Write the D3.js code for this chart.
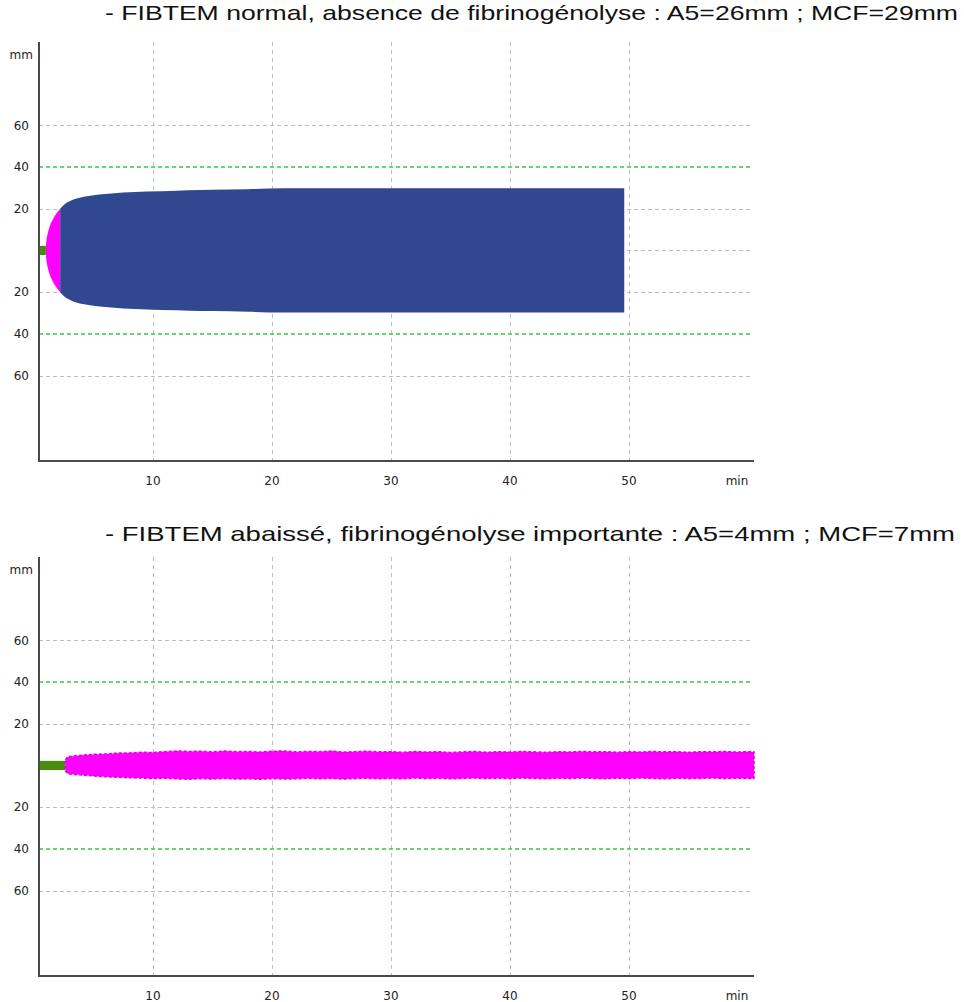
<html>
<head>
  <meta charset="utf-8">
  <script src="https://d3js.org/d3.v7.min.js"></script>
  <style>
    body { margin: 0; background: #fff; }
    text { font-family: 'DejaVu Sans', sans-serif; font-size: 12px; fill: #222; }
    .title { font-family: 'Liberation Sans', Arial, sans-serif; font-size: 21px; fill: #111; }
  </style>
</head>
<body>
<script>

/*--- Chart Data ---*/

var titles = [
  "- FIBTEM normal, absence de fibrinogénolyse : A5=26mm ; MCF=29mm",
  "- FIBTEM abaissé, fibrinogénolyse importante : A5=4mm ; MCF=7mm"
];
var xTicks = [10, 20, 30, 40, 50];
var yTicks = [60, 40, 20];
var guideAmp = 40;          // green dashed reference line
var baseAmp = 2.2;          // thickness of the green baseline (before CT)
var startTime = 0.42;

// normal trace: CT then CFT (magenta up to 20 mm) then blue
var normalCT = 1.0, normalCFT = 2.2;
var normalTime = [1.0, 1.05, 1.15, 1.35, 1.55, 1.8, 2.2, 2.5, 3.0, 3.5, 4.2, 5.0, 6.0, 7.5, 9.5, 12, 13, 15, 18, 21, 25, 30, 40, 49.6];
var normalAmp  = [2.2, 5,    8,    12,   14.5, 17,  20,  21.8, 23.6, 24.8, 25.8, 26.5, 27.1, 27.8, 28.3, 28.7, 28.9, 29.1, 29.4, 29.8, 29.8, 29.8, 29.8, 29.8];

// low trace: CT long, amplitude never reaches 20 mm
var lowCT = 2.65;
var lowTime = [2.65, 2.8, 3, 4, 5, 6, 7, 8, 9, 10, 11, 12, 13, 14, 15, 16, 17, 18, 19, 20,
  21, 22, 23, 24, 25, 26, 27, 28, 29, 30, 31, 32, 33, 34, 35, 36, 37, 38, 39, 40,
  41, 42, 43, 44, 45, 46, 47, 48, 49, 50, 51, 52, 53, 54, 55, 56, 57, 58, 59, 60, 60.5];
var lowUp = [2.6, 3.9, 4.3, 4.9, 5.3, 5.5, 5.9, 6.0, 6.3, 6.2, 6.6, 6.9, 6.7, 6.8, 6.5, 6.9, 6.6, 6.7, 6.4, 6.8,
  6.9, 6.5, 6.7, 6.6, 6.9, 6.4, 6.6, 6.8, 6.5, 6.6, 6.3, 6.7, 6.4, 6.6, 6.2, 6.5, 6.7, 6.3, 6.6, 6.4,
  6.7, 6.5, 6.3, 6.6, 6.4, 6.7, 6.5, 6.6, 6.3, 6.6, 6.4, 6.7, 6.5, 6.6, 6.3, 6.6, 6.5, 6.7, 6.4, 6.6, 6.5];
var lowDown = [2.6, 3.8, 4.1, 4.6, 5.0, 5.4, 5.6, 5.9, 6.0, 6.3, 6.1, 6.4, 6.6, 6.3, 6.5, 6.2, 6.5, 6.4, 6.6, 6.3,
  6.5, 6.4, 6.1, 6.4, 6.2, 6.5, 6.3, 6.1, 6.4, 6.2, 6.4, 6.0, 6.3, 6.1, 6.4, 6.2, 6.0, 6.3, 6.1, 6.3,
  6.0, 6.2, 6.4, 6.1, 6.3, 6.0, 6.2, 6.4, 6.1, 6.3, 6.0, 6.2, 6.4, 6.1, 6.3, 6.2, 6.0, 6.3, 6.1, 6.2, 6.2];

/*--- Page / Layout ---*/

var svg = d3.select("body").append("svg").attr("width", 964).attr("height", 1002),
  panelOffsets = [0, 515],
  titleY = [20, 541],
  xAxisLeft = 39, xAxisRight = 754, gridRight = 750,
  colors = { grid: "#bdbdbd", guide: "#33cc44", axis: "#4a4a4a", base: "#4a8a0c", cft: "#ff00ff", blue: "#30488f" };

var x = d3.scaleLinear().domain([0, 60]).range([34, 748]);

/*--- Draws One Temogram Panel ---*/
function drawPanel(i, drawTrace) {
  var off = panelOffsets[i],
    top = 42 + off, bottom = 461 + off,
    y = d3.scaleLinear().domain([-101, 100]).range([bottom, top]),
    g = svg.append("g");

  g.append("text").attr("class", "title")
    .attr("x", 105).attr("y", titleY[i])
    .attr("textLength", i == 0 ? 853 : 850).attr("lengthAdjust", "spacingAndGlyphs")
    .text(titles[i]);

  // vertical grid
  g.selectAll(".vgrid").data(xTicks).enter().append("line").attr("class", "vgrid")
    .attr("x1", function (d) { return Math.round(x(d)) + 0.5; })
    .attr("x2", function (d) { return Math.round(x(d)) + 0.5; })
    .attr("y1", top).attr("y2", bottom)
    .attr("stroke", colors.grid).attr("stroke-dasharray", "4,4");

  // horizontal grid (both sides + centre)
  var hLines = [0].concat(yTicks).concat(yTicks.map(function (d) { return -d; }))
    .filter(function (d) { return Math.abs(d) != guideAmp; });
  g.selectAll(".hgrid").data(hLines).enter().append("line").attr("class", "hgrid")
    .attr("x1", xAxisLeft).attr("x2", gridRight)
    .attr("y1", function (d) { return Math.round(y(d)) + 0.5; })
    .attr("y2", function (d) { return Math.round(y(d)) + 0.5; })
    .attr("stroke", colors.grid).attr("stroke-dasharray", "4,3");

  g.selectAll(".guide").data([guideAmp, -guideAmp]).enter().append("line").attr("class", "guide")
    .attr("x1", xAxisLeft).attr("x2", gridRight)
    .attr("y1", function (d) { return Math.round(y(d)); })
    .attr("y2", function (d) { return Math.round(y(d)); })
    .attr("stroke", colors.guide).attr("stroke-width", 1.5).attr("stroke-dasharray", "4,3");

  drawTrace(g, y);

  // axes lines
  g.append("line").attr("x1", xAxisLeft).attr("x2", xAxisLeft).attr("y1", top).attr("y2", bottom + 1)
    .attr("stroke", colors.axis).attr("stroke-width", 2);
  g.append("line").attr("x1", xAxisLeft).attr("x2", xAxisRight).attr("y1", bottom).attr("y2", bottom)
    .attr("stroke", colors.axis).attr("stroke-width", 2);

  // y labels
  var yLabels = yTicks.concat(yTicks.map(function (d) { return -d; }));
  g.selectAll(".ylab").data(yLabels).enter().append("text").attr("class", "ylab")
    .attr("x", 29).attr("y", function (d) { return y(d); })
    .attr("dy", "0.35em").attr("text-anchor", "end")
    .text(function (d) { return Math.abs(d); });
  g.append("text").attr("x", 33).attr("y", top + 17).attr("text-anchor", "end").text("mm");

  // x labels
  g.selectAll(".xlab").data(xTicks).enter().append("text").attr("class", "xlab")
    .attr("x", function (d) { return x(d); }).attr("y", bottom + 24)
    .attr("text-anchor", "middle")
    .text(function (d) { return d; });
  g.append("text").attr("x", 737).attr("y", bottom + 24).attr("text-anchor", "middle").text("min");
}

function baseline(g, y, ct) {
  g.append("rect")
    .attr("x", x(startTime)).attr("width", x(ct) - x(startTime))
    .attr("y", y(baseAmp)).attr("height", y(-baseAmp) - y(baseAmp))
    .attr("fill", colors.base);
}

/*--- Normal FIBTEM ---*/
drawPanel(0, function (g, y) {
  baseline(g, y, normalCT);
  var pts = normalTime.map(function (t, k) { return { t: t, a: normalAmp[k] }; }),
    area = d3.area().x(function (d) { return x(d.t); })
      .y0(function (d) { return y(-d.a); }).y1(function (d) { return y(d.a); })
      .curve(d3.curveMonotoneX);
  g.append("path").datum(pts.filter(function (d) { return d.t <= normalCFT; }))
    .attr("d", area).attr("fill", colors.cft);
  g.append("path").datum(pts.filter(function (d) { return d.t >= normalCFT; }))
    .attr("d", area).attr("fill", colors.blue);
});

/*--- Low FIBTEM ---*/
drawPanel(1, function (g, y) {
  baseline(g, y, lowCT);
  var pts = lowTime.map(function (t, k) { return { t: t, u: lowUp[k], l: lowDown[k] }; });
  g.append("path").datum(pts)
    .attr("d", d3.area().x(function (d) { return x(d.t); })
      .y0(function (d) { return y(-d.l); }).y1(function (d) { return y(d.u); }))
    .attr("fill", colors.cft).attr("stroke", "#e400e4")
    .attr("stroke-width", 1.6).attr("stroke-dasharray", "3,2");
});

</script>
</body>
</html>
